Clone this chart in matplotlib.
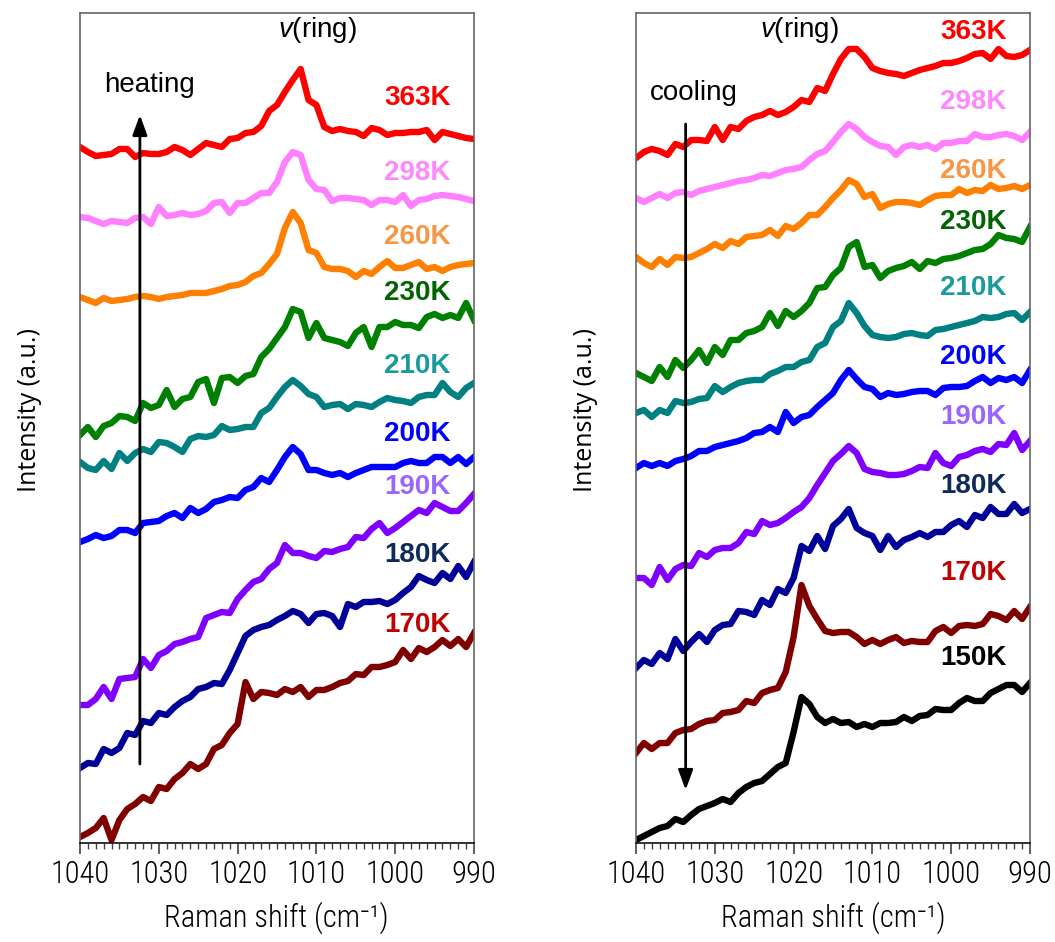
import numpy as np
import matplotlib
matplotlib.use("Agg")
import matplotlib.pyplot as plt
from matplotlib.ticker import MultipleLocator

# ---------------- data ----------------
wavenumber = list(range(1040, 989, -1))  # Raman shift, cm-1

heat_labels = ["363K", "298K", "260K", "230K", "210K", "200K", "190K", "180K", "170K"]
heat_363 = [696,691,687,688,689,694,694,686,690,689,689,691,696,693,688,694,700,698,696,704,705,710,711,717,732,738,751,763,774,743,738,716,712,714,712,711,707,715,713,708,710,710,711,711,713,703,711,709,707,705,704]
heat_298 = [626,625,622,619,622,621,620,625,626,619,636,627,628,630,628,629,632,640,641,630,640,640,645,650,650,661,681,691,688,663,654,653,642,645,645,644,643,638,643,643,641,648,637,643,644,647,648,647,646,644,642]
heat_260 = [546,543,540,545,542,543,544,546,547,546,544,546,547,548,550,550,550,552,554,557,558,561,567,570,579,589,615,631,620,593,590,576,574,574,572,566,572,569,576,582,575,575,578,581,574,576,572,576,578,579,580]
heat_230 = [408,416,406,417,420,427,426,422,440,435,438,453,436,444,446,461,464,440,465,466,460,467,469,486,494,505,516,534,531,505,520,505,503,501,497,510,516,496,516,516,521,518,518,515,526,529,525,528,525,540,523]
heat_210 = [381,375,373,382,374,390,382,390,394,391,401,400,396,391,404,407,406,408,417,413,414,416,416,430,435,446,456,463,457,449,446,436,438,439,434,439,438,436,441,445,443,442,440,446,448,448,460,451,446,455,460]
heat_200 = [301,304,308,305,307,313,313,310,320,321,322,327,330,325,335,330,334,341,343,346,345,353,356,365,361,373,386,396,389,373,373,370,368,370,366,370,373,376,376,376,376,380,382,380,380,386,386,380,386,379,386]
heat_190 = [138,138,144,156,144,164,165,166,184,175,188,192,199,201,204,206,225,228,231,230,244,253,261,264,274,280,298,290,290,287,285,292,291,294,296,306,305,314,320,310,315,321,327,333,330,340,336,332,332,340,349]
heat_180 = [75,80,79,94,90,95,110,108,122,120,130,128,136,142,146,154,156,160,159,173,190,207,213,216,218,223,227,232,229,220,229,230,227,216,239,236,241,241,242,239,243,250,256,267,263,260,270,264,277,266,281]
heat_170 = [6,10,15,25,3,23,34,39,46,42,56,54,64,70,79,74,79,94,98,110,119,161,144,151,150,148,154,151,156,146,153,153,156,160,162,169,168,176,176,178,181,193,184,195,191,196,203,197,204,196,210]

cool_labels = ["363K", "298K", "260K", "230K", "210K", "200K", "190K", "180K", "170K", "150K"]
cool_363 = [685,691,694,692,688,699,696,703,703,702,716,703,716,714,722,726,728,732,728,731,736,743,741,755,752,769,784,794,794,786,775,772,770,769,767,770,773,775,777,780,780,782,785,789,790,784,794,787,786,788,793]
cool_298 = [645,641,645,649,645,650,651,648,652,654,656,658,660,662,663,665,668,667,670,673,674,676,683,689,692,701,711,719,714,706,701,697,696,688,696,698,696,698,694,700,700,702,702,709,706,706,708,709,707,703,711]
cool_260 = [586,580,576,584,578,586,585,586,590,594,599,595,602,599,606,607,608,613,607,617,614,620,628,628,636,645,653,663,659,646,649,635,639,641,641,640,638,643,647,648,648,654,650,653,652,658,654,655,657,654,658]
cool_230 = [470,466,462,476,466,483,475,483,493,480,496,488,503,503,510,512,516,530,517,532,526,532,540,555,556,568,575,596,601,576,578,565,572,575,577,581,574,582,580,584,585,587,590,593,594,599,608,605,604,601,616]
cool_210 = [430,433,426,433,430,442,440,441,444,445,457,451,456,460,462,463,463,469,472,476,476,481,483,496,500,516,522,540,530,517,508,506,505,506,509,510,508,507,513,514,516,518,520,522,526,525,526,529,530,523,531]
cool_200 = [375,380,377,380,377,382,384,387,392,392,396,398,400,402,405,410,411,416,411,431,420,426,428,436,443,450,463,473,464,456,454,446,450,448,449,451,452,452,448,455,456,456,457,462,466,460,465,463,466,460,473]
cool_190 = [265,265,258,276,263,274,278,277,290,286,293,295,295,300,311,309,322,318,320,325,331,336,345,358,370,382,389,397,390,374,371,370,368,368,369,372,376,375,390,380,377,386,388,392,394,391,399,398,410,393,402]
cool_180 = [175,183,179,190,184,204,192,201,209,201,213,218,219,232,231,228,243,238,254,250,265,297,292,307,294,317,324,334,315,310,307,293,307,296,303,306,310,306,311,311,318,322,316,328,325,336,329,329,339,330,334]
cool_170 = [90,100,94,100,100,110,113,114,119,122,123,130,131,133,142,140,150,153,155,171,206,258,237,224,212,210,211,211,206,199,203,199,203,206,200,202,201,201,212,216,210,217,218,217,219,229,227,223,232,224,236]
cool_150 = [3,7,11,15,17,24,21,28,34,37,40,44,41,50,56,60,62,69,76,80,111,146,139,126,120,124,120,121,116,119,116,120,120,121,126,122,127,128,134,133,133,140,145,142,142,150,154,158,158,151,160]

heat_series = [heat_363, heat_298, heat_260, heat_230, heat_210, heat_200, heat_190, heat_180, heat_170]
cool_series = [cool_363, cool_298, cool_260, cool_230, cool_210, cool_200, cool_190, cool_180, cool_170, cool_150]

# label heights (intensity units where each label sits)
heat_label_y = [745, 670, 606, 550, 477, 409, 356, 288, 218]
cool_label_y = [811, 741, 672, 621, 555, 486, 426, 357, 270, 185]

# ---------------- styles ----------------
line_colors = {"363K": "#FF0000", "298K": "#FF80FF", "260K": "#FF8000", "230K": "#008000",
               "210K": "#008080", "200K": "#0000FF", "190K": "#8000FF", "180K": "#000099",
               "170K": "#800000", "150K": "#000000"}
label_colors = {"363K": "#FF0000", "298K": "#FF88FF", "260K": "#F79646", "230K": "#006400",
                "210K": "#1A9A9A", "200K": "#0000FF", "190K": "#9966FF", "180K": "#0F2B5B",
                "170K": "#C00000", "150K": "#000000"}

plt.rcParams["mathtext.fontset"] = "custom"
plt.rcParams["mathtext.it"] = "Liberation Sans:italic"
plt.rcParams["mathtext.rm"] = "Liberation Sans"

W, H = 1055, 942
fig = plt.figure(figsize=(W / 100, H / 100), dpi=100)

condensed = ["Roboto Condensed", "DejaVu Sans"]
arial = ["Liberation Sans", "DejaVu Sans"]


def make_axes(left_px):
    ax = fig.add_axes([left_px / W, (H - 843) / H, 394 / W, 830 / H])
    ax.set_xlim(1040, 990)
    ax.set_ylim(0, 830)
    ax.set_yticks([])
    ax.xaxis.set_major_locator(MultipleLocator(10))
    ax.xaxis.set_minor_locator(MultipleLocator(1))
    ax.tick_params(axis="x", which="major", direction="out", length=8, width=1.2,
                   color="#444444", pad=4, labelsize=22)
    ax.tick_params(axis="x", which="minor", direction="out", length=4, width=1.0, color="#444444")
    for lab in ax.get_xticklabels():
        lab.set_fontfamily(condensed)
        lab.set_fontweight(300)
    for s in ["top", "right", "left"]:
        ax.spines[s].set_color("#666666")
        ax.spines[s].set_linewidth(1.2)
    ax.spines["bottom"].set_color("#111111")
    ax.spines["bottom"].set_linewidth(1.2)
    return ax


ax1 = make_axes(80)
ax2 = make_axes(636)

for lab, ys, ly in zip(heat_labels, heat_series, heat_label_y):
    ax1.plot(wavenumber, ys, color=line_colors[lab], lw=4.6, solid_joinstyle="round")
    ax1.text(997.2, ly, lab, color=label_colors[lab], fontsize=20, fontweight="bold",
             family=arial, ha="center", va="center")

for lab, ys, ly in zip(cool_labels, cool_series, cool_label_y):
    ax2.plot(wavenumber, ys, color=line_colors[lab], lw=4.6, solid_joinstyle="round")
    ax2.text(997.2, ly, lab, color=label_colors[lab], fontsize=20, fontweight="bold",
             family=arial, ha="center", va="center")

# arrows and annotations
arrow_style = dict(arrowstyle="-|>,head_length=0.6,head_width=0.22",
                   color="black", lw=2, mutation_scale=20, shrinkA=0, shrinkB=0)
ax1.annotate("", xy=(1032.4, 728), xytext=(1032.4, 79), arrowprops=arrow_style)
ax2.annotate("", xy=(1033.7, 53), xytext=(1033.7, 719), arrowprops=arrow_style)
ax1.text(1031.2, 751, "heating", fontsize=20, family=arial, ha="center", va="baseline")
ax2.text(1032.6, 743, "cooling", fontsize=20, family=arial, ha="center", va="baseline")
for ax, xv in [(ax1, 1009.9), (ax2, 1019.2)]:
    ax.text(xv, 806, r"$\mathit{v}$(ring)", fontsize=20, family=arial, ha="center", va="baseline")

# axis labels
for cx in [30, 586]:
    fig.text(cx / W, (H - 410) / H, "Intensity (a.u.)", rotation=90, fontsize=18,
             family=["Open Sans", "DejaVu Sans"], ha="center", va="center")
for cx in [276, 833]:
    fig.text(cx / W, (H - 918) / H, "Raman shift (cm\u207b\u00b9)", fontsize=22,
             family=condensed, fontweight=300, ha="center", va="center")

fig.savefig("out.png", dpi=100)
